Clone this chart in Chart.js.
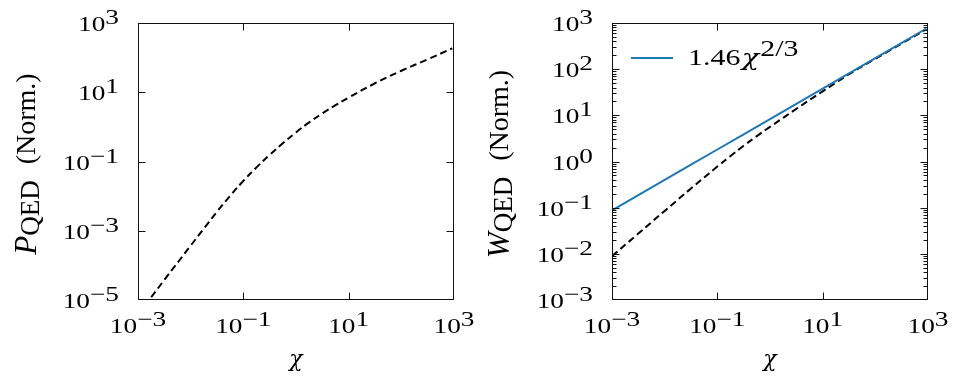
<!DOCTYPE html>
<html><head><meta charset="utf-8">
<script src="https://cdn.jsdelivr.net/npm/chart.js@4"></script>
<style>
html,body{margin:0;padding:0;background:#fff;width:964px;height:387px;overflow:hidden}
#l{position:absolute;left:0;top:0}
#r{position:absolute;left:480px;top:0}
</style>
</head><body>
<canvas id="l" width="480" height="387"></canvas>
<canvas id="r" width="484" height="387"></canvas>
<script>
// ---- data ----
const chiP  = [0.00178, 0.00316, 0.01, 0.0178, 0.0316, 0.0562, 0.1, 0.178, 0.316, 0.562, 1, 1.78, 3.16, 5.62, 10, 31.6, 100, 316, 929];
const pQED  = [1.20e-5, 3.80e-5, 3.72e-4, 1.15e-3, 3.55e-3, 0.0102, 0.0275, 0.0676, 0.155, 0.335, 0.692, 1.35, 2.45, 4.22, 7.0, 18.2, 41.7, 89.1, 186];

const chiW  = [0.001, 0.00316, 0.01, 0.0316, 0.1, 0.178, 0.316, 0.562, 1, 3.16, 10, 31.6, 100, 316, 933];
const wQED  = [0.00891, 0.0275, 0.0851, 0.260, 0.776, 1.32, 2.19, 3.55, 5.62, 13.8, 33.1, 77.6, 168, 359, 733];

const chiFit = [0.001, 0.01, 0.1, 1, 10, 100, 933];
const wFit   = [0.087, 0.40, 1.82, 8.3, 38, 174, 760];

const xTickExps      = [-3, -1, 1, 3];
const leftYTickExps  = [-5, -3, -1, 1, 3];
const rightYTickExps = [-3, -2, -1, 0, 1, 2, 3];
const fitLabel = {coef: '1.46', sym: 'χ', exp: '2/3'};

// ---- drawing helpers ----
const SX = 1.3, RAISE = 7;
const TICK_FONT = '21px "Liberation Serif"';
const CHI_FONT = 'italic 22px "DejaVu Serif"';
function expStr(e){ return e < 0 ? '\u2212' + (-e) : String(e); }
function powLabel(ctx, exp, x, y, align){
  ctx.font = TICK_FONT;
  const b = '10', e = expStr(exp);
  const wb = ctx.measureText(b).width * SX, we = ctx.measureText(e).width * SX;
  const tot = wb + we;
  const x0 = align === 'center' ? x - tot/2 : (align === 'right' ? x - tot : x);
  ctx.save(); ctx.translate(x0, y); ctx.scale(SX, 1);
  ctx.textAlign = 'left'; ctx.textBaseline = 'alphabetic'; ctx.fillStyle = '#000';
  ctx.fillText(b, 0, 0); ctx.fillText(e, wb / SX, -RAISE);
  ctx.restore();
}
function pts(xs, ys){ return xs.map((v, i) => ({x: v, y: ys[i]})); }

const framePlugin = {
  id: 'frame',
  afterDraw(chart, args, o){
    const {ctx, chartArea: a, scales: {x, y}} = chart;
    ctx.save();
    ctx.strokeStyle = '#111'; ctx.lineWidth = 1;
    const L = Math.round(a.left) + 0.5, R = Math.round(a.right) - 0.5;
    const T = Math.round(a.top) + 0.5, B = Math.round(a.bottom) - 0.5;
    ctx.strokeRect(L, T, R - L, B - T);
    ctx.beginPath();
    o.xTicks.forEach(e => {
      const v = Math.pow(10, e); if (v <= x.min || v >= x.max) return;
      const px = Math.round(x.getPixelForValue(v)) + 0.5;
      ctx.moveTo(px, B); ctx.lineTo(px, B - 7);
      ctx.moveTo(px, T); ctx.lineTo(px, T + 7);
    });
    o.yTicks.forEach(e => {
      const v = Math.pow(10, e); if (v <= y.min || v >= y.max) return;
      const py = Math.round(y.getPixelForValue(v)) + 0.5;
      ctx.moveTo(L, py); ctx.lineTo(L + 7, py);
      ctx.moveTo(R, py); ctx.lineTo(R - 7, py);
    });
    if (o.yMinor){
      for (let d = Math.log10(y.min); d < Math.log10(y.max); d++){
        for (let k = 2; k <= 9; k++){
          const py = Math.round(y.getPixelForValue(k * Math.pow(10, d))) + 0.5;
          ctx.moveTo(L, py); ctx.lineTo(L + 4, py);
          ctx.moveTo(R, py); ctx.lineTo(R - 4, py);
        }
      }
    }
    ctx.stroke();
    // tick labels
    o.xTicks.forEach(e => powLabel(ctx, e, x.getPixelForValue(Math.pow(10, e)), a.bottom + 33, 'center'));
    o.yTicks.forEach(e => powLabel(ctx, e, a.left - 19, y.getPixelForValue(Math.pow(10, e)) + 8, 'right'));
    // x title
    ctx.fillStyle = '#000';
    ctx.font = CHI_FONT;
    ctx.textAlign = 'center'; ctx.textBaseline = 'alphabetic';
    ctx.fillText('χ', (a.left + a.right) / 2, a.bottom + 66);
    // y title (rotated)
    const parts = [
      {t: o.ySym, f: 'italic 31px "Liberation Serif"', dy: 0},
      {t: 'QED', f: '27px "Liberation Serif"', dy: 3},
      {t: '(Norm.)', f: '28px "Liberation Serif"', dy: -1, gap: 16}
    ];
    let tot = 0;
    parts.forEach(p => { ctx.font = p.f; p.w = ctx.measureText(p.t).width; tot += p.w + (p.gap || 0); });
    ctx.save();
    ctx.translate(o.yTitleX, o.yTitleC + tot / 2);
    ctx.rotate(-Math.PI / 2);
    ctx.textAlign = 'left';
    let cx = 0;
    parts.forEach(p => { cx += (p.gap || 0); ctx.font = p.f; ctx.fillText(p.t, cx, p.dy); cx += p.w; });
    ctx.restore();
    // legend
    if (o.legend){
      const ds = chart.data.datasets[0];
      const ly = a.top + 35;
      ctx.strokeStyle = ds.borderColor; ctx.lineWidth = 2;
      ctx.beginPath(); ctx.moveTo(a.left + 19, ly); ctx.lineTo(a.left + 61, ly); ctx.stroke();
      const tx = a.left + 76, by = a.top + 42;
      ctx.save(); ctx.translate(tx, by); ctx.scale(SX, 1); ctx.textAlign = 'left'; ctx.fillStyle = '#000';
      ctx.font = '23px "Liberation Serif"';
      ctx.fillText(fitLabel.coef, 0, 0); let w = ctx.measureText(fitLabel.coef).width + 1;
      ctx.font = CHI_FONT;
      ctx.fillText(fitLabel.sym, w, 0); w += ctx.measureText(fitLabel.sym).width + 1;
      ctx.font = '23px "Liberation Serif"';
      ctx.fillText(fitLabel.exp, w, -9);
      ctx.restore();
    }
    ctx.restore();
  }
};

function makeChart(id, datasets, yMin, yMax, yTicks, yMinor, padRight, yWidth, ySym, yTitleX, legend){
  return new Chart(document.getElementById(id), {
    type: 'line',
    data: {datasets},
    options: {
      responsive: false, animation: false, events: [],
      layout: {padding: {left: 0, right: padRight, top: 23, bottom: 0}},
      elements: {point: {radius: 0}, line: {tension: 0.4}},
      scales: {
        x: {type: 'logarithmic', min: 1e-3, max: 1e3, ticks: {display: false}, grid: {display: false}, border: {display: false},
            afterFit(s){ s.height = 87; }},
        y: {type: 'logarithmic', min: yMin, max: yMax, ticks: {display: false}, grid: {display: false}, border: {display: false},
            afterFit(s){ s.width = yWidth; }}
      },
      plugins: {
        legend: {display: false}, tooltip: {enabled: false},
        frame: {xTicks: xTickExps, yTicks, yMinor, ySym, yTitleX, yTitleC: 164, legend}
      }
    },
    plugins: [framePlugin]
  });
}

makeChart('l', [
  {label: 'P_QED', data: pts(chiP, pQED), borderColor: '#000', borderWidth: 2, borderDash: [7, 4], fill: false}
], 1e-5, 1e3, leftYTickExps, false, 26, 138, 'P', 36, false);

makeChart('r', [
  {label: '1.46χ^{2/3}', data: pts(chiFit, wFit), borderColor: '#1f77b4', borderWidth: 2, fill: false},
  {label: 'W_QED', data: pts(chiW, wQED), borderColor: '#000', borderWidth: 2, borderDash: [7, 4], fill: false}
], 1e-3, 1e3, rightYTickExps, true, 36, 132, 'W', 29, true);
</script>
</body></html>
